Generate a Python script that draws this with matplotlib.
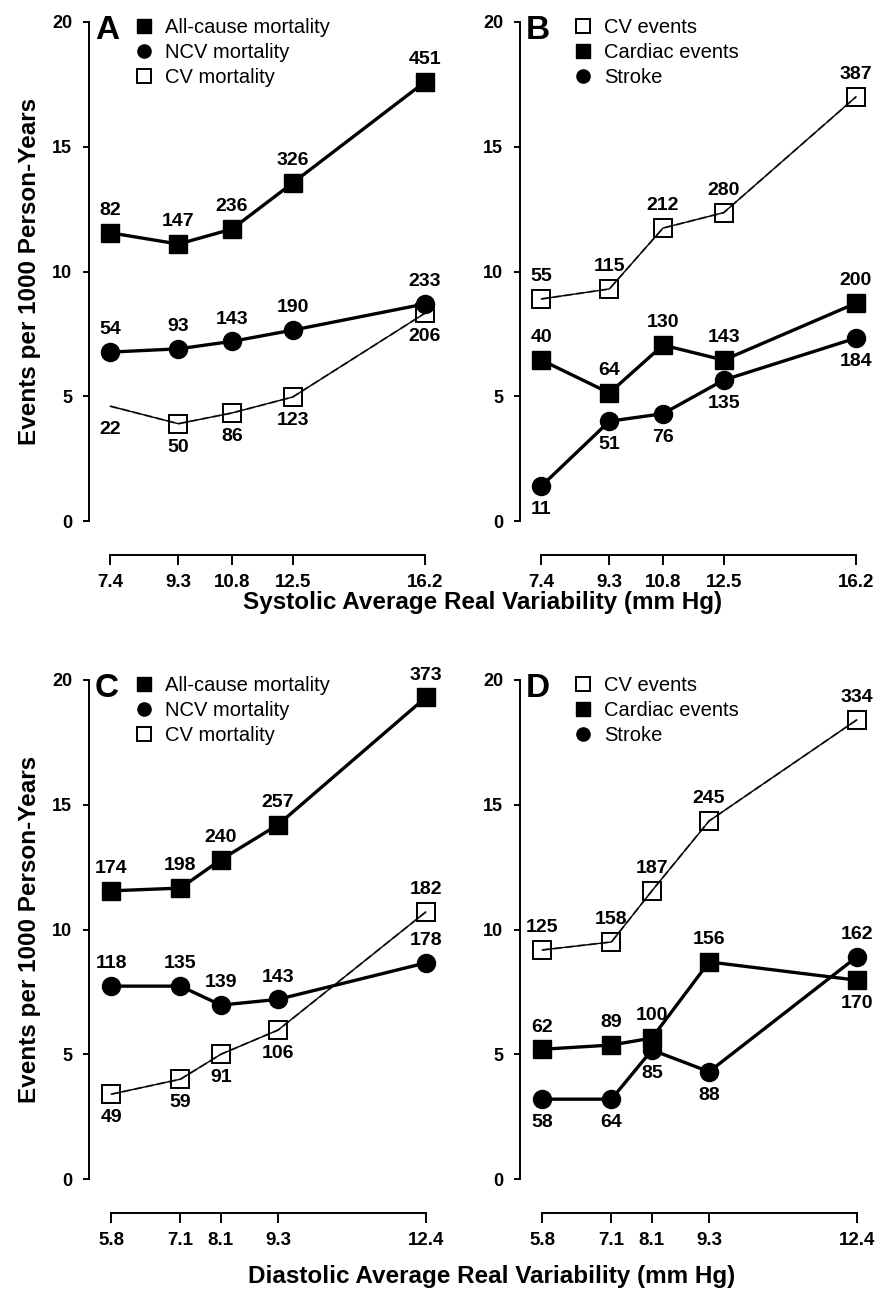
import matplotlib
matplotlib.use("Agg")
import matplotlib.pyplot as plt
from matplotlib.lines import Line2D

plt.rcParams['font.family'] = ['Liberation Sans', 'DejaVu Sans']

# x positions (mm Hg) and tick labels
sys_x = [7.4, 9.3, 10.8, 12.5, 16.2]
sys_ticks = ["7.4", "9.3", "10.8", "12.5", "16.2"]
dia_x = [5.8, 7.25, 8.1, 9.3, 12.4]
dia_ticks = ["5.8", "7.1", "8.1", "9.3", "12.4"]

# A: systolic, mortality
A_allcause = [11.55, 11.1, 11.7, 13.55, 17.6]
A_allcause_n = [82, 147, 236, 326, 451]
A_ncv = [6.77, 6.9, 7.2, 7.65, 8.7]
A_ncv_n = [54, 93, 143, 190, 233]
A_cv = [4.6, 3.9, 4.33, 4.97, 8.33]
A_cv_n = [22, 50, 86, 123, 206]

# B: systolic, events
B_cv = [8.9, 9.3, 11.74, 12.36, 17.0]
B_cv_n = [55, 115, 212, 280, 387]
B_cardiac = [6.45, 5.13, 7.05, 6.45, 8.73]
B_cardiac_n = [40, 64, 130, 143, 200]
B_stroke = [1.4, 4.0, 4.3, 5.65, 7.33]
B_stroke_n = [11, 51, 76, 135, 184]

# C: diastolic, mortality
C_allcause = [11.55, 11.66, 12.8, 14.2, 19.3]
C_allcause_n = [174, 198, 240, 257, 373]
C_ncv = [7.73, 7.73, 6.97, 7.2, 8.66]
C_ncv_n = [118, 135, 139, 143, 178]
C_cv = [3.4, 4.0, 5.0, 5.97, 10.7]
C_cv_n = [49, 59, 91, 106, 182]

# D: diastolic, events
D_cv = [9.18, 9.5, 11.55, 14.35, 18.4]
D_cv_n = [125, 158, 187, 245, 334]
D_cardiac = [5.2, 5.37, 5.65, 8.7, 7.97]
D_cardiac_n = [62, 89, 100, 156, 170]
D_stroke = [3.2, 3.2, 5.17, 4.3, 8.9]
D_stroke_n = [58, 64, 85, 88, 162]

W, H = 881, 1297
fig = plt.figure(figsize=(W / 100, H / 100), dpi=100)


def make_axes(left, top, w=351, h=499):
    return fig.add_axes([left / W, 1 - (top + h) / H, w / W, h / H])


STY = {
    "sq": dict(marker="s", color="black", mfc="black", mec="black", ms=12.5, lw=2.4),
    "ci": dict(marker="o", color="black", mfc="black", mec="black", ms=13, lw=2.4),
    "open": dict(marker="s", color="black", mfc="none", mec="black", mew=1.4, ms=12.5, lw=1.0),
}


def series(ax, x, y, n, kind, sides, markevery=None):
    kw = dict(STY[kind])
    ax.plot(x, y, markevery=markevery, clip_on=False, zorder=3, **kw)
    if kind == "open":
        ax.plot(x, y, color="0.4", lw=1.4, ls=(0, (4, 2)), zorder=2, clip_on=False)
    for xi, yi, ni, s in zip(x, y, n, sides):
        off = 16 if s == "a" else -17
        ax.annotate(str(ni), (xi, yi), xytext=(0, off), textcoords="offset points",
                    ha="center", va="center", fontsize=14, fontweight="bold")


def style(ax, x, ticks, xlim, letter, handles, labels, leg_x, ylabel=True):
    ax.set_xlim(*xlim)
    ax.set_ylim(0, 20)
    for s in ["top", "right"]:
        ax.spines[s].set_visible(False)
    ax.spines["left"].set_bounds(0, 20)
    ax.spines["bottom"].set_position(("outward", 24.5))
    ax.spines["bottom"].set_bounds(x[0], x[-1])
    for s in ["left", "bottom"]:
        ax.spines[s].set_linewidth(1.4)
    ax.set_xticks(x)
    ax.set_xticklabels(ticks)
    ax.set_yticks([0, 5, 10, 15, 20])
    ax.tick_params(axis="x", length=7, width=1.4, pad=7, labelsize=13.5)
    ax.tick_params(axis="y", length=4, width=1.4, pad=8, labelsize=13)
    for t in ax.get_xticklabels() + ax.get_yticklabels():
        t.set_fontweight("bold")
    if ylabel:
        ax.set_ylabel("Events per 1000 Person-Years", fontsize=17.5, fontweight="bold")
        ax.yaxis.set_label_coords(-0.137, 0.5)
    ax.text(0.017, 0.982, letter, transform=ax.transAxes, fontsize=24,
            fontweight="bold", va="center", ha="left")
    ax.legend(handles, labels, loc="upper left", bbox_to_anchor=(leg_x, 1.029),
              frameon=False, borderpad=0, handlelength=1.0, handletextpad=0.55,
              labelspacing=0.32, fontsize=14.5)


def h(kind):
    d = dict(STY[kind])
    d["ms"] = 9.5
    d["lw"] = 0
    return Line2D([], [], **d)


sys_lim = (6.8, 16.62)
dia_lim = (5.33, 12.7)

# ---- A ----
ax = make_axes(89, 22)
series(ax, sys_x, A_allcause, A_allcause_n, "sq", "aaaaa")
series(ax, sys_x, A_ncv, A_ncv_n, "ci", "aaaaa")
series(ax, sys_x, A_cv, A_cv_n, "open", "bbbbb", markevery=[1, 2, 3, 4])
style(ax, sys_x, sys_ticks, sys_lim, "A", [h("sq"), h("ci"), h("open")],
      ["All-cause mortality", "NCV mortality", "CV mortality"], 0.100)

# ---- B ----
ax = make_axes(520, 22)
series(ax, sys_x, B_cv, B_cv_n, "open", "aaaaa")
series(ax, sys_x, B_cardiac, B_cardiac_n, "sq", "aaaaa")
series(ax, sys_x, B_stroke, B_stroke_n, "ci", "bbbbb")
style(ax, sys_x, sys_ticks, sys_lim, "B", [h("open"), h("sq"), h("ci")],
      ["CV events", "Cardiac events", "Stroke"], 0.123, ylabel=False)

# ---- C ----
ax = make_axes(89, 680)
series(ax, dia_x, C_allcause, C_allcause_n, "sq", "aaaaa")
series(ax, dia_x, C_ncv, C_ncv_n, "ci", "aaaaa")
series(ax, dia_x, C_cv, C_cv_n, "open", "bbbba")
style(ax, dia_x, dia_ticks, dia_lim, "C", [h("sq"), h("ci"), h("open")],
      ["All-cause mortality", "NCV mortality", "CV mortality"], 0.100)

# ---- D ----
ax = make_axes(520, 680)
series(ax, dia_x, D_cv, D_cv_n, "open", "aaaaa")
series(ax, dia_x, D_cardiac, D_cardiac_n, "sq", "aaaab")
series(ax, dia_x, D_stroke, D_stroke_n, "ci", "bbbba")
style(ax, dia_x, dia_ticks, dia_lim, "D", [h("open"), h("sq"), h("ci")],
      ["CV events", "Cardiac events", "Stroke"], 0.123, ylabel=False)

fig.text(483 / W, 1 - 602 / H, "Systolic Average Real Variability (mm Hg)",
         ha="center", va="center", fontsize=17.5, fontweight="bold")
fig.text(492 / W, 1 - 1277 / H, "Diastolic Average Real Variability (mm Hg)",
         ha="center", va="center", fontsize=17.5, fontweight="bold")

fig.savefig("out.png", dpi=100)
